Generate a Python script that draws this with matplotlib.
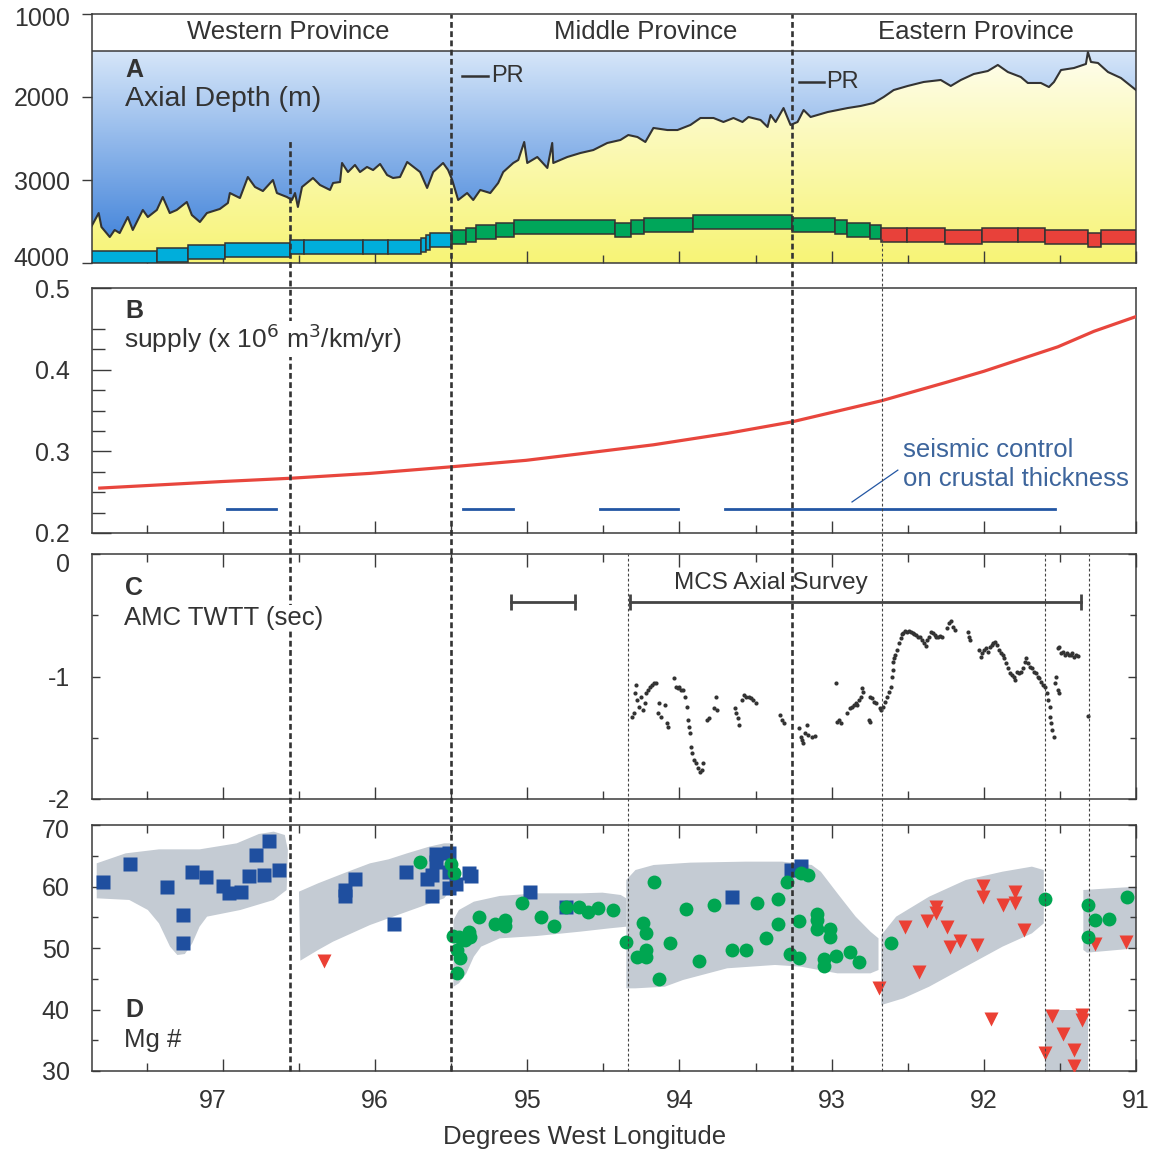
import numpy as np
import matplotlib
matplotlib.use("Agg")
import matplotlib.pyplot as plt
from matplotlib.patches import Rectangle, Polygon
from matplotlib.lines import Line2D
import matplotlib.transforms as mtransforms
from matplotlib.ticker import FixedLocator

plt.rcParams['font.family'] = ['Liberation Sans', 'DejaVu Sans']
plt.rcParams['mathtext.default'] = 'regular'
plt.rcParams['axes.unicode_minus'] = False

INK = '#3a3a3a'
TXT = '#333333'

# ---------------- data ----------------
X_WEST, X_EAST = 97.86, 91.0
x_major = [91, 92, 93, 94, 95, 96, 97]

# Panel A: axial depth profile
depth_lon = [97.862, 97.816, 97.798, 97.743, 97.711, 97.678, 97.625, 97.592, 97.526, 97.493,
             97.434, 97.395, 97.349, 97.303, 97.237, 97.204, 97.151, 97.105, 97.020, 96.967,
             96.954, 96.888, 96.836, 96.789, 96.737, 96.671, 96.645, 96.579, 96.546, 96.526,
             96.507, 96.480, 96.408, 96.362, 96.296, 96.276, 96.230, 96.217, 96.178, 96.132,
             96.099, 96.053, 96.013, 95.967, 95.921, 95.882, 95.836, 95.789, 95.704, 95.658,
             95.618, 95.553, 95.520, 95.493, 95.454, 95.395, 95.355, 95.309, 95.243, 95.191,
             95.158, 95.092, 95.059, 95.020, 95.000, 94.934, 94.868, 94.836, 94.829, 94.737,
             94.651, 94.566, 94.474, 94.388, 94.336, 94.276, 94.224, 94.171, 94.079, 94.013,
             93.928, 93.862, 93.776, 93.711, 93.645, 93.586, 93.546, 93.467, 93.421, 93.401,
             93.368, 93.316, 93.270, 93.224, 93.184, 93.138, 93.026, 92.895, 92.809, 92.724,
             92.658, 92.592, 92.500, 92.395, 92.283, 92.217, 92.151, 92.066, 91.974, 91.908,
             91.842, 91.757, 91.711, 91.625, 91.572, 91.539, 91.493, 91.408, 91.329, 91.316,
             91.296, 91.250, 91.184, 91.099, 91.0]
depth_m = [3554, 3398, 3566, 3687, 3602, 3639, 3446, 3602, 3361, 3446,
           3361, 3205, 3398, 3361, 3265, 3422, 3506, 3398, 3349, 3277,
           3157, 3217, 2964, 3084, 3133, 3000, 3157, 3205, 3241, 3157,
           3325, 3084, 2976, 3060, 3120, 3036, 3024, 2795, 2904, 2819,
           2904, 2843, 2880, 2807, 2940, 2976, 2964, 2783, 2904, 3096,
           2904, 2795, 2880, 3000, 3241, 3157, 3241, 3120, 3157, 3036,
           2904, 2795, 2759, 2542, 2795, 2723, 2855, 2554, 2795, 2723,
           2675, 2639, 2554, 2518, 2458, 2482, 2542, 2373, 2398, 2398,
           2337, 2253, 2253, 2301, 2253, 2301, 2241, 2277, 2361, 2217,
           2301, 2133, 2337, 2301, 2157, 2241, 2181, 2133, 2108, 2072,
           2000, 1916, 1867, 1819, 1795, 1867, 1795, 1723, 1687, 1614,
           1699, 1759, 1831, 1831, 1880, 1819, 1675, 1651, 1602, 1458,
           1578, 1590, 1699, 1771, 1916]
HEADER_BOTTOM = 1446
province_names = ['Western Province', 'Middle Province', 'Eastern Province']
province_lon = [96.57, 94.22, 92.05]
PROVINCE_DEPTH = 1217
pr_west = [95.428, 93.217]
pr_east = [95.257, 93.053]
pr_depth = [1747, 1819]

box_west = [97.86, 97.434, 97.226, 96.989, 96.559, 96.467, 96.079, 95.914, 95.695, 95.663, 95.636,
            95.495, 95.403, 95.340, 95.206, 95.086, 94.421, 94.318, 94.232, 93.913, 93.259, 92.978, 92.899, 92.748,
            92.673, 92.502, 92.257, 92.011, 91.776, 91.601, 91.314, 91.228]
box_east = [97.434, 97.226, 96.989, 96.559, 96.467, 96.079, 95.914, 95.695, 95.663, 95.636, 95.498,
            95.403, 95.340, 95.206, 95.086, 94.421, 94.318, 94.232, 93.913, 93.259, 92.978, 92.899, 92.748, 92.673,
            92.502, 92.257, 92.011, 91.776, 91.601, 91.314, 91.228, 91.0]
box_top = [3852, 3816, 3787, 3755, 3723, 3723, 3723, 3723, 3702, 3666, 3635,
           3606, 3575, 3546, 3518, 3486, 3518, 3478, 3454, 3425, 3454, 3486, 3518, 3546,
           3575, 3575, 3602, 3575, 3575, 3602, 3635, 3602]
box_bottom = [4000, 3984, 3955, 3924, 3892, 3892, 3892, 3892, 3871, 3843, 3804,
              3775, 3743, 3714, 3687, 3654, 3687, 3647, 3623, 3594, 3623, 3654, 3687, 3714,
              3743, 3743, 3775, 3743, 3743, 3775, 3804, 3775]
box_group = ['W'] * 11 + ['M'] * 13 + ['E'] * 8
group_color = {'W': '#00aedb', 'M': '#00a65a', 'E': '#e8413a'}

# Panel B: magma supply
supply_lon = [97.809, 97.007, 96.559, 96.033, 95.503, 95.007, 94.651, 94.171,
              93.684, 93.263, 92.671, 92.237, 92.000, 91.513, 91.276, 91.0]
supply_val = [0.255, 0.263, 0.267, 0.273, 0.281, 0.289, 0.297, 0.308,
              0.322, 0.336, 0.362, 0.385, 0.398, 0.428, 0.447, 0.465]
seis_west = [96.976, 95.421, 94.520, 93.699]
seis_east = [96.650, 95.093, 94.007, 91.533]
SEIS_LEVEL = 0.23

# Panel C: AMC two-way travel time
amc_lon = [94.313, 94.301, 94.289, 94.284, 94.277, 94.265, 94.253, 94.241, 94.229, 94.217,
           94.205, 94.193, 94.181, 94.169, 94.156, 94.144, 94.132, 94.120, 94.096, 94.084,
           94.072, 94.036, 94.024, 94.012, 94.000, 93.988, 93.976, 93.963, 93.951, 93.944,
           93.937, 93.932, 93.927, 93.915, 93.903, 93.891, 93.879, 93.867, 93.855, 93.843,
           93.819, 93.807, 93.770, 93.763, 93.754, 93.638, 93.626, 93.614, 93.609, 93.590,
           93.577, 93.565, 93.541, 93.529, 93.517, 93.498, 93.336, 93.324, 93.312, 93.216,
           93.204, 93.196, 93.187, 93.175, 93.163, 93.155, 93.131, 93.107, 92.974, 92.962,
           92.950, 92.938, 92.902, 92.878, 92.866, 92.854, 92.842, 92.830, 92.818, 92.805,
           92.798, 92.793, 92.757, 92.745, 92.750, 92.733, 92.721, 92.709, 92.685, 92.673,
           92.661, 92.649, 92.637, 92.625, 92.612, 92.605, 92.600, 92.596, 92.588, 92.581,
           92.571, 92.557, 92.547, 92.538, 92.528, 92.516, 92.504, 92.492, 92.480, 92.468,
           92.456, 92.444, 92.432, 92.419, 92.407, 92.395, 92.383, 92.371, 92.359, 92.347,
           92.335, 92.323, 92.311, 92.299, 92.287, 92.275, 92.239, 92.226, 92.214, 92.202,
           92.190, 92.106, 92.099, 92.094, 92.033, 92.021, 92.009, 91.997, 91.985, 91.973,
           91.961, 91.949, 91.937, 91.925, 91.913, 91.901, 91.889, 91.877, 91.865, 91.853,
           91.840, 91.828, 91.816, 91.804, 91.792, 91.780, 91.768, 91.756, 91.744, 91.732,
           91.720, 91.708, 91.696, 91.684, 91.672, 91.660, 91.647, 91.635, 91.623, 91.611,
           91.599, 91.587, 91.575, 91.568, 91.563, 91.556, 91.549, 91.539, 91.532, 91.524,
           91.515, 91.507, 91.515, 91.503, 91.491, 91.479, 91.466, 91.454, 91.442, 91.430,
           91.418, 91.406, 91.394, 91.382, 91.314]
amc_twtt = [-1.328, -1.300, -1.137, -1.069, -1.192, -1.246, -1.164, -1.273, -1.219, -1.137,
            -1.110, -1.083, -1.069, -1.056, -1.050, -1.300, -1.219, -1.328, -1.232, -1.382,
            -1.409, -1.015, -1.083, -1.096, -1.083, -1.110, -1.110, -1.164, -1.246, -1.355,
            -1.409, -1.464, -1.573, -1.627, -1.681, -1.709, -1.750, -1.777, -1.763, -1.709,
            -1.355, -1.341, -1.260, -1.164, -1.273, -1.260, -1.300, -1.341, -1.396, -1.192,
            -1.151, -1.164, -1.164, -1.178, -1.192, -1.219, -1.314, -1.355, -1.382, -1.423,
            -1.491, -1.518, -1.545, -1.464, -1.396, -1.478, -1.491, -1.486, -1.056, -1.369,
            -1.355, -1.382, -1.300, -1.260, -1.246, -1.232, -1.219, -1.232, -1.192, -1.164,
            -1.096, -1.124, -1.355, -1.369, -1.164, -1.178, -1.205, -1.219, -1.260, -1.273,
            -1.246, -1.205, -1.164, -1.124, -1.083, -1.001, -0.947, -0.879, -0.852, -0.824,
            -0.784, -0.729, -0.688, -0.656, -0.642, -0.629, -0.634, -0.626, -0.634, -0.642,
            -0.656, -0.661, -0.675, -0.675, -0.702, -0.724, -0.751, -0.702, -0.675, -0.634,
            -0.648, -0.661, -0.675, -0.675, -0.669, -0.675, -0.607, -0.566, -0.544, -0.599,
            -0.620, -0.634, -0.675, -0.702, -0.784, -0.838, -0.811, -0.784, -0.770, -0.797,
            -0.756, -0.743, -0.729, -0.716, -0.743, -0.784, -0.811, -0.824, -0.852, -0.892,
            -0.933, -0.974, -0.988, -1.001, -1.028, -0.960, -0.974, -0.960, -0.933, -0.879,
            -0.852, -0.892, -0.920, -0.933, -0.960, -0.974, -1.001, -1.015, -1.042, -1.069,
            -1.083, -1.137, -1.192, -1.246, -1.328, -1.382, -1.437, -1.491, -1.056, -1.001,
            -1.110, -1.137, -0.770, -0.756, -0.811, -0.797, -0.824, -0.811, -0.824, -0.824,
            -0.811, -0.838, -0.824, -0.833, -1.320]
survey_lon = [94.326, 91.359]
short_survey_lon = [95.109, 94.683]
SURVEY_LEVEL = -0.39

# Panel D: Mg#
sq_lon = [97.786, 97.610, 97.364, 97.262, 97.262, 97.201, 97.111, 96.999, 96.963, 96.880,
          96.827, 96.780, 96.729, 96.700, 96.634, 96.196, 96.196, 96.130, 95.877, 95.795,
          95.661, 95.624, 95.624, 95.602, 95.602, 95.512, 95.512, 95.512, 95.468, 95.383,
          95.371, 94.979, 94.748, 93.657, 93.264, 93.204]
sq_mg = [60.68, 63.66, 59.86, 55.31, 50.76, 62.30, 61.49, 60.08, 58.89, 59.11,
         61.71, 65.12, 61.82, 67.34, 62.74, 59.43, 58.46, 61.17, 53.90, 62.36,
         61.17, 61.87, 58.46, 65.28, 64.04, 65.50, 62.41, 59.81, 60.35, 62.25,
         61.71, 59.05, 56.61, 58.24, 62.68, 63.33]
ci_lon = [95.704, 95.502, 95.481, 95.485, 95.449, 95.461, 95.441, 95.461, 95.412, 95.381,
          95.376, 95.320, 95.215, 95.145, 95.145, 95.035, 94.909, 94.826, 94.743, 94.663,
          94.603, 94.535, 94.434, 94.349, 94.277, 94.241, 94.222, 94.217, 94.217, 94.169,
          94.132, 94.060, 93.959, 93.872, 93.775, 93.657, 93.563, 93.493, 93.428, 93.351,
          93.351, 93.295, 93.276, 93.216, 93.216, 93.204, 93.155, 93.095, 93.095, 93.095,
          93.047, 93.047, 93.011, 93.011, 92.970, 92.878, 92.822, 92.612, 91.599, 91.317,
          91.317, 91.269, 91.177, 91.056]
ci_mg = [63.93, 63.60, 62.25, 52.01, 51.84, 49.68, 48.32, 45.88, 51.30, 52.66,
         51.84, 55.04, 53.90, 54.55, 53.58, 57.26, 55.04, 53.58, 56.61, 56.72,
         55.91, 56.45, 56.18, 51.03, 48.59, 54.01, 52.49, 49.68, 48.59, 60.68,
         44.91, 50.87, 56.29, 47.94, 56.99, 49.62, 49.62, 57.37, 51.68, 53.90,
         58.02, 60.68, 49.02, 54.39, 48.43, 62.14, 61.87, 55.53, 54.55, 53.09,
         48.16, 47.07, 53.04, 51.84, 48.75, 49.40, 47.78, 50.76, 58.02, 56.94,
         51.84, 54.55, 54.66, 58.24]
tr_lon = [96.335, 92.692, 92.516, 92.427, 92.371, 92.316, 92.316, 92.239, 92.219, 92.154,
          92.046, 92.005, 92.005, 91.954, 91.877, 91.797, 91.797, 91.739, 91.599, 91.551,
          91.479, 91.406, 91.406, 91.358, 91.358, 91.269, 91.068]
tr_mg = [47.94, 43.44, 53.47, 46.15, 54.39, 56.72, 55.64, 53.47, 50.22, 51.14,
         50.49, 60.08, 58.24, 38.40, 56.99, 59.16, 57.37, 52.93, 32.87, 38.94,
         36.02, 33.42, 30.81, 39.11, 38.29, 50.60, 51.03]

env1_lon = [97.829, 97.639, 97.420, 97.153, 96.909, 96.763, 96.666, 96.593, 96.573, 96.581, 96.666,
            96.885, 97.104, 97.153, 97.201, 97.250, 97.299, 97.347, 97.420, 97.493, 97.615, 97.829]
env1_mg = [63.77, 65.39, 66.04, 66.04, 67.02, 68.54, 68.92, 68.37, 65.94, 59.43, 57.81,
           56.18, 55.10, 53.47, 50.76, 49.02, 48.86, 50.22, 54.01, 56.18, 57.81, 58.08]
env2_lon = [96.500, 96.374, 96.179, 96.033, 95.911, 95.790, 95.644, 95.546, 95.485,
            95.485, 95.546, 95.668, 95.790, 96.033, 96.155, 96.276, 96.374, 96.491]
env2_mg = [59.16, 60.52, 62.41, 63.77, 64.42, 65.39, 66.48, 67.02, 67.02,
           59.97, 58.08, 56.99, 55.91, 53.74, 52.38, 51.03, 49.68, 47.94]
env3_lon = [95.485, 95.449, 95.351, 95.181, 94.938, 94.650, 94.506, 94.386, 94.349, 94.349,
            94.458, 94.651, 94.938, 95.181, 95.303, 95.351, 95.400, 95.449, 95.485]
env3_mg = [54.55, 56.18, 57.53, 58.46, 58.89, 58.89, 59.00, 58.62, 58.08, 53.47,
           53.20, 52.66, 51.95, 51.57, 50.22, 48.59, 45.88, 44.26, 43.71]
env4_lon = [94.349, 94.349, 94.289, 94.169, 93.927, 93.565, 93.324, 93.131, 93.071, 92.962, 92.842,
            92.745, 92.692, 92.692, 92.745, 92.962, 93.204, 93.372, 93.686, 93.976, 94.096, 94.289]
env4_mg = [43.44, 61.06, 62.68, 63.50, 63.88, 64.04, 64.04, 63.50, 62.41, 58.89, 55.10,
           52.66, 51.57, 46.42, 45.88, 45.88, 46.97, 47.24, 46.70, 44.80, 43.71, 43.44]
env5_lon = [92.673, 92.673, 92.576, 92.359, 92.118, 91.877, 91.684, 91.606, 91.606, 91.684,
            91.877, 92.118, 92.359, 92.528]
env5_mg = [40.73, 52.11, 55.10, 58.35, 61.06, 62.41, 63.23, 62.68, 54.01, 52.38,
           50.22, 46.97, 43.71, 41.82]
env6_lon = [91.599, 91.314, 91.314, 91.599]
env6_mg = [39.92, 39.92, 30.0, 30.0]
env7_lon = [91.346, 91.0, 91.0, 91.322, 91.346]
env7_mg = [59.43, 59.97, 49.95, 49.24, 49.68]

thick_lines_lon = [96.56, 95.50, 93.26]
thin_lines_lon = [92.67, 94.34, 91.60, 91.31]

# ---------------- figure ----------------
fig = plt.figure(figsize=(11.55, 11.51), dpi=100)
L, W = 92 / 1155, 1044 / 1155
axA = fig.add_axes([L, 1 - 263 / 1151, W, 249 / 1151])
axB = fig.add_axes([L, 1 - 533 / 1151, W, 245 / 1151])
axC = fig.add_axes([L, 1 - 799 / 1151, W, 245 / 1151])
axD = fig.add_axes([L, 1 - 1071 / 1151, W, 246 / 1151])


def base_style(ax):
    for s in ax.spines.values():
        s.set_color(INK)
        s.set_linewidth(1.1)
    ax.xaxis.set_major_locator(FixedLocator(x_major))
    ax.xaxis.set_minor_locator(FixedLocator([v + 0.5 for v in x_major[:-1]] + [97.5]))
    ax.tick_params(axis='both', which='both', colors=INK, labelcolor=TXT, labelsize=18, width=1.0)
    ax.tick_params(axis='x', which='both', direction='in', labelbottom=False)
    ax.tick_params(axis='x', which='major', length=9)
    ax.tick_params(axis='x', which='minor', length=5.5)


# ----- Panel A -----
ax = axA
base_style(ax)
n = 256
t = np.linspace(0, 1, n)[:, None]
blue_top = np.array([214, 230, 249]) / 255
blue_bot = np.array([52, 122, 215]) / 255
blue_img = (blue_top + (blue_bot - blue_top) * t)[:, None, :]
ax.imshow(blue_img, extent=(X_WEST, X_EAST, 4000, HEADER_BOTTOM), aspect='auto',
          origin='upper', interpolation='bilinear', zorder=0)
yel_top = np.array([255, 254, 242]) / 255
yel_bot = np.array([247, 244, 118]) / 255
yel_img = (yel_top + (yel_bot - yel_top) * t ** 0.9)[:, None, :]
imy = ax.imshow(yel_img, extent=(X_WEST, X_EAST, 4000, HEADER_BOTTOM), aspect='auto',
                origin='upper', interpolation='bilinear', zorder=1)
clip_poly = Polygon(np.column_stack([depth_lon + [X_EAST, X_WEST], depth_m + [4000, 4000]]),
                    closed=True, facecolor='none', edgecolor='none')
ax.add_patch(clip_poly)
imy.set_clip_path(clip_poly)
ax.plot(depth_lon, depth_m, color='#333333', lw=1.5, zorder=3)
ax.axhline(HEADER_BOTTOM, color=INK, lw=1.1, zorder=3)
for w, e, tp, bt, g in zip(box_west, box_east, box_top, box_bottom, box_group):
    ax.add_patch(Rectangle((e, tp), w - e, bt - tp, facecolor=group_color[g],
                           edgecolor='#333333', lw=1.1, zorder=4))
for name, lon in zip(province_names, province_lon):
    ax.text(lon, PROVINCE_DEPTH, name, ha='center', va='center', fontsize=18.5, color=TXT, zorder=5)
for w, e, d in zip(pr_west, pr_east, pr_depth):
    ax.plot([w, e], [d, d], color='#333333', lw=1.8, zorder=5)
    ax.text(e - 0.02, d, 'PR', ha='left', va='center', fontsize=17, color=TXT, zorder=5)
ax.set_xlim(X_WEST, X_EAST)
ax.set_ylim(4000, 1000)
ax.set_yticks([1000, 2000, 3000, 4000])
ax.tick_params(axis='y', direction='out', length=7, pad=9)

# ----- Panel B -----
ax = axB
base_style(ax)
ax.plot(supply_lon, supply_val, color='#e8463d', lw=2.3, zorder=3)
for w, e in zip(seis_west, seis_east):
    ax.plot([w, e], [SEIS_LEVEL, SEIS_LEVEL], color='#2356a3', lw=2.0, zorder=3)
ax.plot([92.866, 92.565], [0.238, 0.277], color='#2356a3', lw=0.9, zorder=3)
ax.text(0.777, 0.339, 'seismic control', transform=ax.transAxes, color='#3d659c',
        fontsize=18.5, va='center', ha='left')
ax.text(0.777, 0.220, 'on crustal thickness', transform=ax.transAxes, color='#3d659c',
        fontsize=18.5, va='center', ha='left')
ax.set_xlim(X_WEST, X_EAST)
ax.set_ylim(0.2, 0.5)
ax.yaxis.set_major_locator(FixedLocator([0.2, 0.3, 0.4, 0.5]))
ax.yaxis.set_minor_locator(FixedLocator([0.225, 0.25, 0.275, 0.325, 0.35, 0.375, 0.425, 0.45]))
ax.tick_params(axis='y', which='both', direction='in', pad=16)
ax.tick_params(axis='y', which='major', length=14)
ax.tick_params(axis='y', which='minor', length=9)

# ----- Panel C -----
ax = axC
base_style(ax)
ax.plot(amc_lon, amc_twtt, 'o', ms=3.0, color='#333333', mec='none', zorder=3)
for pair in (survey_lon, short_survey_lon):
    ax.plot(pair, [SURVEY_LEVEL, SURVEY_LEVEL], color='#444444', lw=2.0, zorder=3)
    ax.plot(pair, [SURVEY_LEVEL, SURVEY_LEVEL], '|', color='#444444', ms=11, mew=2.0, zorder=3)
ax.text(93.401, -0.237, 'MCS Axial Survey', ha='center', va='center', fontsize=17.5, color=TXT)
ax.set_xlim(X_WEST, X_EAST)
ax.set_ylim(-2, 0)
ax.yaxis.set_major_locator(FixedLocator([-2, -1, 0]))
ax.yaxis.set_minor_locator(FixedLocator([-1.5, -0.5]))
ax.tick_params(axis='x', which='both', top=True)
ax.tick_params(axis='y', which='both', direction='in', right=True, pad=16)
ax.tick_params(axis='y', which='major', length=6)
ax.tick_params(axis='y', which='minor', length=4)

# ----- Panel D -----
ax = axD
base_style(ax)
for el, em in ((env1_lon, env1_mg), (env2_lon, env2_mg), (env3_lon, env3_mg), (env4_lon, env4_mg),
               (env5_lon, env5_mg), (env6_lon, env6_mg), (env7_lon, env7_mg)):
    ax.add_patch(Polygon(np.column_stack([el, em]), closed=True, facecolor='#c4cbd3',
                         edgecolor='none', zorder=1))
ax.plot(sq_lon, sq_mg, 's', ms=9.5, color='#1f4f9f', mec='none', zorder=3)
ax.plot(ci_lon, ci_mg, 'o', ms=10, color='#00a651', mec='none', zorder=4)
ax.plot(tr_lon, tr_mg, 'v', ms=10, color='#eb4034', mec='none', zorder=3)
ax.set_xlim(X_WEST, X_EAST)
ax.set_ylim(30, 70)
ax.yaxis.set_major_locator(FixedLocator([30, 40, 50, 60, 70]))
ax.yaxis.set_minor_locator(FixedLocator([35, 45, 55, 65]))
ax.tick_params(axis='x', which='both', top=True, labelbottom=True, pad=13)
ax.tick_params(axis='y', which='both', direction='in', right=True, pad=16)
ax.tick_params(axis='y', which='major', length=6)
ax.tick_params(axis='y', which='minor', length=4)

fig.text(585 / 1155, 1 - 1137 / 1151, 'Degrees West Longitude', ha='center', va='center',
         fontsize=18.5, color=TXT)


# nudge a few edge tick labels as in the original artwork
def nudge(axis_obj, index, dx_px, dy_px):
    lab = axis_obj.get_major_ticks()[index].label1
    lab.set_transform(lab.get_transform() +
                      mtransforms.ScaledTranslation(dx_px / 100, dy_px / 100, fig.dpi_scale_trans))


nudge(axA.yaxis, 0, 0, -2)   # 1000
nudge(axA.yaxis, 3, 0, 6)    # 4000
nudge(axC.yaxis, 2, 0, -8)   # 0
nudge(axD.yaxis, 4, 0, -4)   # 70
nudge(axD.xaxis, 6, -10, 0)  # 97

# panel labels (figure level, drawn above the boundary lines)
label_kw = dict(va='center', ha='left', color=TXT, zorder=10)
box_kw = dict(facecolor='white', edgecolor='none', pad=1.0)
fig.text(0.0316, 0.775, 'A', transform=axA.transAxes, fontsize=18, fontweight='bold', **label_kw)
fig.text(0.0316, 0.659, 'Axial Depth (m)', transform=axA.transAxes, fontsize=20.5, **label_kw)
fig.text(0.0316, 0.906, 'B', transform=axB.transAxes, fontsize=18, fontweight='bold', **label_kw)
fig.text(0.0307, 0.792, r'supply (x 10$^{\mathsf{6}}$ m$^{\mathsf{3}}$/km/yr)', transform=axB.transAxes,
         fontsize=19, bbox=box_kw, **label_kw)
fig.text(0.0316, 0.861, 'C', transform=axC.transAxes, fontsize=18, fontweight='bold', **label_kw)
fig.text(0.0307, 0.739, 'AMC TWTT (sec)', transform=axC.transAxes, fontsize=18.5, bbox=box_kw, **label_kw)
fig.text(0.0316, 0.248, 'D', transform=axD.transAxes, fontsize=18, fontweight='bold', **label_kw)
fig.text(0.0307, 0.126, 'Mg #', transform=axD.transAxes, fontsize=18.5, **label_kw)

# province / segment boundary lines spanning the panels
inv = fig.transFigure.inverted()


def fig_y(axis, yval):
    return inv.transform(axis.transData.transform((95.0, yval)))[1]


blend = mtransforms.blended_transform_factory(axD.transData, fig.transFigure)
y_bottom = fig_y(axD, 30)
thick_tops = [fig_y(axA, 2530), fig_y(axA, 1000), fig_y(axA, 1000)]
for lon, ytop in zip(thick_lines_lon, thick_tops):
    fig.add_artist(Line2D([lon, lon], [y_bottom, ytop], transform=blend, color='#333333',
                          lw=1.9, linestyle=(0, (2.2, 1.3)), zorder=5))
thin_tops = [fig_y(axA, 3714), fig_y(axC, 0), fig_y(axC, 0), fig_y(axC, 0)]
for lon, ytop in zip(thin_lines_lon, thin_tops):
    fig.add_artist(Line2D([lon, lon], [y_bottom, ytop], transform=blend, color='#444444',
                          lw=0.8, linestyle=(0, (2.5, 2.0)), zorder=5))

fig.savefig('out.png', dpi=100, facecolor='white')
